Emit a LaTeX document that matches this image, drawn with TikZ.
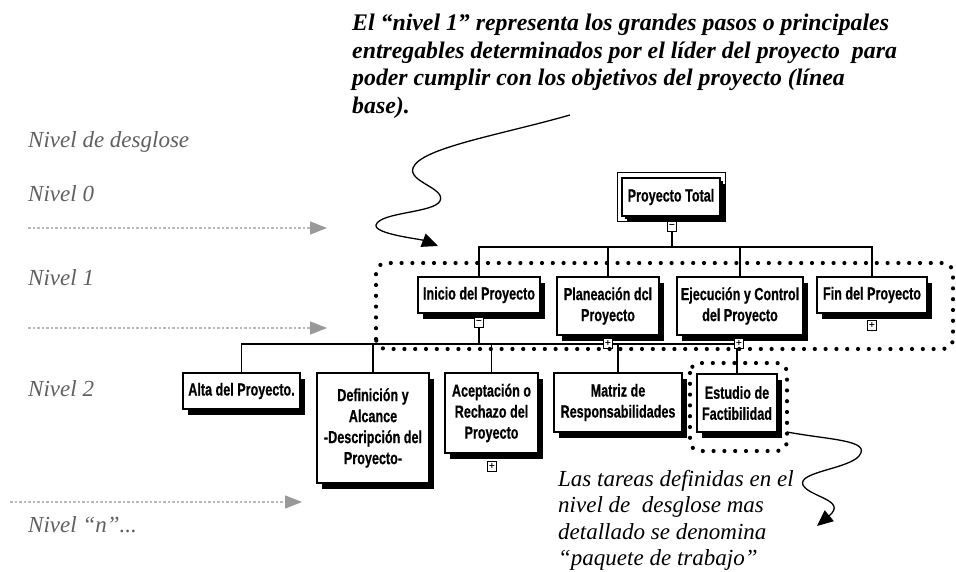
\documentclass[tikz,border=0pt]{standalone}
\usepackage{fontspec}
\setmainfont{Liberation Serif}
\newfontfamily\bx{Liberation Sans}[FakeStretch=0.72,FakeBold=0.6]
\newfontfamily\pmfont{DejaVu Sans}
\usetikzlibrary{shadows,arrows.meta,fit}
\definecolor{lbl}{HTML}{606060}
\tikzset{
  wbox/.style={draw, line width=1.2pt, fill=white, align=center,
    font=\bx\bfseries\fontsize{17.5}{21}\selectfont, inner sep=0pt,
    drop shadow={shadow xshift=5pt, shadow yshift=-6pt, opacity=1, fill=black}},
  pm/.style={draw, line width=0.7pt, fill=white, minimum width=9pt, minimum height=10pt,
    inner sep=0pt, font=\pmfont\bfseries\fontsize{8}{8}\selectfont},
  link/.style={line width=1.2pt},
  dotreg/.style={line width=4.2pt, line cap=round, dash pattern=on 0pt off 10.8pt, rounded corners=10pt},
  lvl/.style={font=\itshape\fontsize{23}{26}\selectfont, text=lbl, anchor=base west, inner sep=0pt},
  guide/.style={gray!55, line width=1.2pt, dash pattern=on 2.5pt off 2pt,
    -{Triangle[length=17pt,width=13pt,fill=gray!80,color=gray!80]}},
  note/.style={anchor=north west, align=left, inner sep=0pt},
  curv/.style={line width=1.3pt, -{Triangle[length=16pt,width=14pt]}}
}
\begin{document}
\begin{tikzpicture}[x=1pt,y=-1pt]
\useasboundingbox[fill=white] (0,0) rectangle (956,572);

% level labels
\node[lvl] (l0) at (28,148) {Nivel de desglose};
\node[lvl] (l1) at (28,202) {Nivel 0};
\node[lvl] (l2) at (28,285) {Nivel 1};
\node[lvl] (l3) at (28,396) {Nivel 2};
\node[lvl] (l4) at (28,532) {Nivel “n”...};

% guide arrows
\coordinate (g1a) at (28,228); \coordinate (g1b) at (327,228);
\coordinate (g2a) at (28,328); \coordinate (g2b) at (327,328);
\coordinate (g3a) at (10,502); \coordinate (g3b) at (302,502);
\draw[guide] (g1a) -- (g1b);
\draw[guide] (g2a) -- (g2b);
\draw[guide] (g3a) -- (g3b);

% top node
\node[wbox, minimum width=98pt, minimum height=38pt,
  drop shadow={shadow xshift=3pt, shadow yshift=-3pt, opacity=1, fill=black}] (tot) at (671,197) {Proyecto Total};
\node[draw, line width=0.8pt, fit=(tot), inner sep=4.5pt] (totf) {};
\node[pm] (totm) at (672,226) {−};

% level 1
\node[wbox, minimum width=122pt, minimum height=36pt] (ini) at (479,295) {Inicio del Proyecto};
\node[wbox, minimum width=102pt, minimum height=58pt] (pla) at (608,306) {Planeación dcl\\Proyecto};
\node[wbox, minimum width=126pt, minimum height=58pt] (eje) at (740,306) {Ejecución y Control\\del Proyecto};
\node[wbox, minimum width=110pt, minimum height=36pt] (fin) at (872,295) {Fin del Proyecto};

\coordinate (j1) at (672,247);
\draw[link] (totm) -- (j1);
\draw[link] (ini.north) |- (j1) -| (fin.north);
\draw[link] (pla.north) -- (pla.north |- j1);
\draw[link] (eje.north) -- (eje.north |- j1);

% level 2
\node[wbox, minimum width=117pt, minimum height=36pt] (alta) at (241.5,391) {Alta del Proyecto.};
\node[wbox, minimum width=112pt, minimum height=110pt] (defi) at (373,428) {Definición y\\Alcance\\-Descripción del\\Proyecto-};
\node[wbox, minimum width=93pt, minimum height=80pt] (acep) at (491.5,413) {Aceptación o\\Rechazo del\\Proyecto};
\node[wbox, minimum width=128pt, minimum height=59pt] (matr) at (618,402.5) {Matriz de\\Responsabilidades};
\node[wbox, minimum width=80pt, minimum height=58pt] (estu) at (737,403) {Estudio de\\Factibilidad};

\node[pm] (inim) at (479,322.5) {−};
\coordinate (j2) at (479,344);
\draw[link] (inim) -- (j2);
\draw[link] (alta.north) |- (j2) -| (estu.north);
\draw[link] (defi.north) -- (defi.north |- j2);
\draw[link] (acep.north) -- (acep.north |- j2);
\draw[link] (matr.north) -- (matr.north |- j2);

\node[pm] (plap) at (608,343) {+};
\node[pm] (ejep) at (739,343) {+};
\node[pm] (finp) at (872,325) {+};
\node[pm] (acepp) at (492,466) {+};

% dotted regions
\draw[dotreg] (376,349) -- (376,263) -- (953,263) -- (953,349) -- cycle;
\draw[dotreg] (690,363) rectangle (787,451);

% notes
\node[note, font=\bfseries\itshape\fontsize{23.8}{27.5}\selectfont] (n1) at (352,14)
  {El “nivel 1” representa los grandes pasos o principales\\
   entregables determinados por el líder del proyecto\ \ para\\
   poder cumplir con los objetivos del proyecto (línea\\
   base).};
\node[note, font=\itshape\fontsize{23}{26.5}\selectfont] (n2) at (558,470)
  {Las tareas definidas en el\\
   nivel de\ \ desglose mas\\
   detallado se denomina\\
   “paquete de trabajo”};

% curved callouts
\coordinate (c1s) at (570,115); \coordinate (c1e) at (438,246);
\draw[curv] (c1s) .. controls (500,135) and (420,148) .. (413,168)
  .. controls (408,182) and (446,188) .. (440,201)
  .. controls (434,213) and (380,212) .. (376,225)
  .. controls (374,234) and (420,239) .. (c1e);
\coordinate (c2s) at (787,432); \coordinate (c2e) at (817,526);
\draw[curv] (c2s) .. controls (830,440) and (872,440) .. (859,456)
  .. controls (848,469) and (797,472) .. (803,485)
  .. controls (809,497) and (848,500) .. (c2e);
\end{tikzpicture}
\end{document}
